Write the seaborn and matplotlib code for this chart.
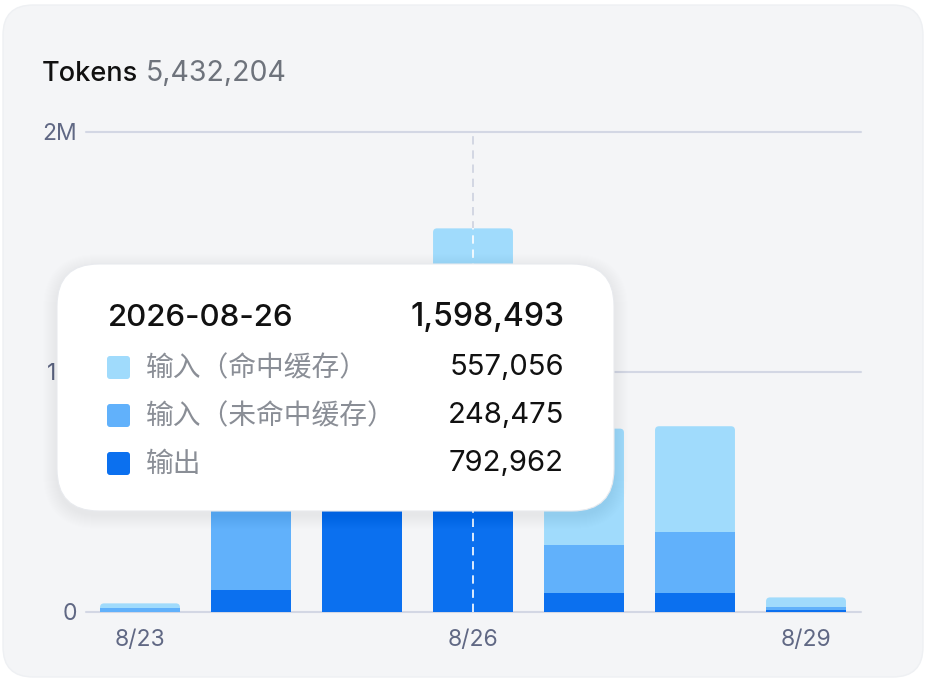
import pandas as pd
import seaborn as sns
import matplotlib.pyplot as plt
from matplotlib.patches import FancyBboxPatch

# daily token usage, stacked
dates = ['8/23', '8/24', '8/25', '8/26', '8/27', '8/28', '8/29']
cached = [19000, 346911, 80000, 557056, 486000, 442000, 41000]
uncached = [15000, 560000, 120000, 248475, 199000, 253000, 11500]
output = [2000, 92000, 1000000, 792962, 79000, 79000, 8300]
series_names = ['输入（命中缓存）', '输入（未命中缓存）', '输出']
series_colors = ['#A0DBFC', '#61B1FB', '#0B70EF']
y_ticks = [0, 1000000, 2000000]
y_tick_labels = ['0', '1M', '2M']
shown_dates = ['8/23', '8/26', '8/29']
hover_date = '2026-08-26'
hover_idx = 3

df = pd.DataFrame({'date': dates, 'cached': cached, 'uncached': uncached, 'output': output})
df['mid'] = df['output'] + df['uncached']
df['total'] = df['mid'] + df['cached']

sns.set_style('white')
plt.rcParams['font.family'] = ['Inter', 'Noto Sans CJK SC', 'DejaVu Sans']

W, H = 926, 680
fig = plt.figure(figsize=(W / 100, H / 100), dpi=100)
fig.patch.set_facecolor('white')

# background card (pixel coords)
bg = fig.add_axes([0, 0, 1, 1], zorder=0)
bg.set_xlim(0, W)
bg.set_ylim(H, 0)
bg.axis('off')
bg.add_patch(FancyBboxPatch((3, 5), 920, 672, boxstyle='round,pad=0,rounding_size=30',
                            fc='#F4F5F7', ec='#EEF0F3', lw=1))

# chart axes: x 86..861 px, y 132..612 px
ax = fig.add_axes([86 / W, (H - 612) / H, 775 / W, 480 / H], zorder=1)
ax.patch.set_alpha(0)

layers = [('total', series_colors[0]), ('mid', series_colors[1]), ('output', series_colors[2])]
for i, (col, colr) in enumerate(layers):
    n0 = len(ax.patches)
    sns.barplot(data=df, x='date', y=col, color=colr, saturation=1, width=0.72, ax=ax,
                zorder=2 + i, linewidth=0, edgecolor='none')
    if i == 0:
        # round the top corners of the top segment
        for p in list(ax.patches[n0:]):
            x, y, w, h = p.get_x(), p.get_y(), p.get_width(), p.get_height()
            p.remove()
            ax.add_patch(FancyBboxPatch((x, y), w, h, boxstyle='round,pad=0,rounding_size=0.036',
                                        mutation_aspect=462963, fc=colr, ec='none', zorder=2))

ax.set_xlim(-0.4865, 6.4955)
ax.set_ylim(0, 2000000)
ax.set_yticks(y_ticks)
ax.set_yticklabels(y_tick_labels)
ax.set_xticks(range(len(dates)))
ax.set_xticklabels([d if d in shown_dates else '' for d in dates])
ax.set_xlabel('')
ax.set_ylabel('')
ax.tick_params(axis='y', length=0, pad=6.5, labelsize=16.5, labelcolor='#606884')
ax.tick_params(axis='x', length=0, pad=12, labelsize=16.5, labelcolor='#606884')
ax.grid(axis='y', color='#D3D7E4', lw=1.5)
ax.grid(axis='x', visible=False)
ax.set_axisbelow(True)
for gl in ax.get_ygridlines():
    gl.set_clip_on(False)
for s in ax.spines.values():
    s.set_visible(False)

# hover line
ax.plot([hover_idx, hover_idx], [0, 2000000], color='#CDD2DF', lw=1.2, ls=(0, (5, 3.5)), zorder=1.5)
ax.plot([hover_idx, hover_idx], [0, df['total'][hover_idx]], color='white', lw=1.2,
        ls=(0, (5, 3.5)), zorder=6)

# overlay: title and tooltip
fg = fig.add_axes([0, 0, 1, 1], zorder=3)
fg.set_xlim(0, W)
fg.set_ylim(H, 0)
fg.axis('off')
fg.patch.set_alpha(0)

fg.text(42, 81, 'Tokens', fontsize=19.5, color='#111111', fontweight='medium', va='baseline')
fg.text(146, 81, f"{df['total'].sum():,}", fontsize=20.5, color='#6E737C', va='baseline')

bx, by, bw, bh = 57, 264, 557, 247
for k in range(14, 0, -1):
    fg.add_patch(FancyBboxPatch((bx - k, by - k + 4), bw + 2 * k, bh + 2 * k,
                                boxstyle=f'round,pad=0,rounding_size={42 + k}',
                                fc='#000000', ec='none', alpha=0.005))
fg.add_patch(FancyBboxPatch((bx, by), bw, bh, boxstyle='round,pad=0,rounding_size=42',
                            fc='white', ec='#E8EAEE', lw=0.8))

fg.text(108, 326, hover_date, fontsize=22.5, color='#111111', fontweight='medium', va='baseline')
fg.text(564, 326, f"{df['total'][hover_idx]:,}", fontsize=23, color='#111111',
        fontweight='medium', va='baseline', ha='right')
row_vals = [cached[hover_idx], uncached[hover_idx], output[hover_idx]]
for j, (name, colr, val) in enumerate(zip(series_names, series_colors, row_vals)):
    yc = 368 + 48 * j
    fg.add_patch(FancyBboxPatch((107, yc - 12), 23, 23, boxstyle='round,pad=0,rounding_size=3',
                                fc=colr, ec='none'))
    fg.text(146, yc + 1, name, fontsize=20, color='#8A8E96', va='center')
    fg.text(564, yc, f'{val:,}', fontsize=21, color='#111111', va='center', ha='right')

fig.savefig('out.png', dpi=100, facecolor=fig.get_facecolor())
